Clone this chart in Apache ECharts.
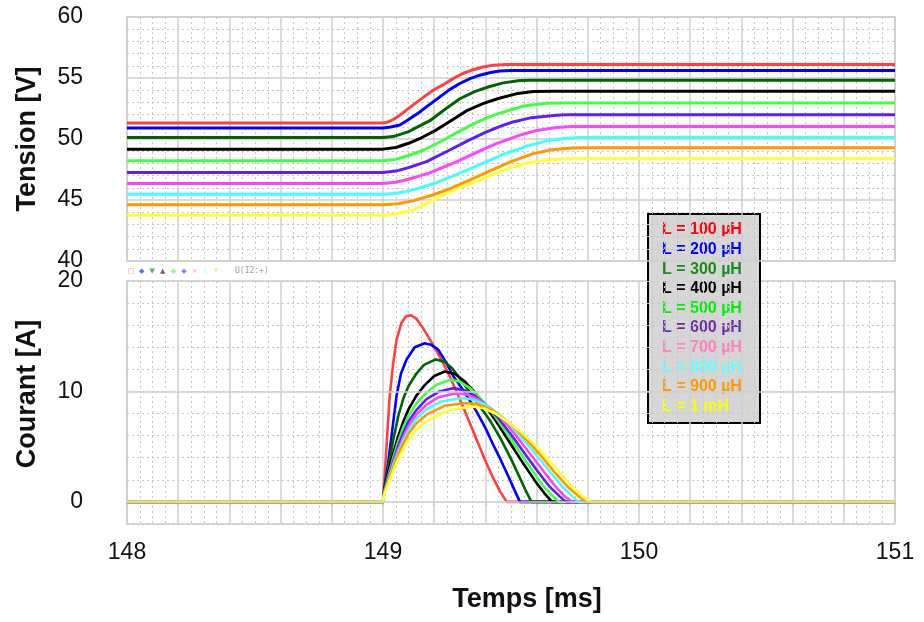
<!DOCTYPE html>
<html><head><meta charset="utf-8">
<script src="https://cdn.jsdelivr.net/npm/echarts@6/dist/echarts.min.js"></script>
<style>html,body{margin:0;padding:0;background:#fff}#c{width:924px;height:622px}</style>
</head><body><div id="c"></div><script>
// ---------- labels ----------
const seriesNames = ['L = 100 µH','L = 200 µH','L = 300 µH','L = 400 µH','L = 500 µH','L = 600 µH','L = 700 µH','L = 800 µH','L = 900 µH','L = 1 mH'];
const xTickLabels = [148, 149, 150, 151];
const voltageTickLabels = [40, 45, 50, 55, 60];
const currentTickLabels = [0, 10, 20];

// ---------- voltage [ms, V] ----------
const voltage100 = [[148,51.32],[149.0,51.32],[149.02,51.4],[149.04,51.6],[149.066,51.95],[149.09,52.35],[149.118,52.8],[149.16,53.45],[149.196,54.0],[149.24,54.5],[149.274,54.95],[149.31,55.35],[149.352,55.68],[149.39,55.9],[149.43,56.05],[149.48,56.1],[151,56.1]];
const voltage200 = [[148,50.91],[149.0,50.91],[149.03,50.98],[149.066,51.15],[149.1,51.6],[149.144,52.22],[149.18,52.8],[149.222,53.45],[149.26,54.05],[149.3,54.55],[149.34,54.95],[149.378,55.23],[149.42,55.45],[149.456,55.57],[149.5,55.61],[151,55.61]];
const voltage300 = [[148,50.13],[149.0,50.13],[149.04,50.2],[149.1,50.6],[149.183,51.5],[149.24,52.4],[149.3,53.3],[149.36,53.9],[149.417,54.3],[149.47,54.6],[149.535,54.8],[149.58,54.82],[151,54.82]];
const voltage400 = [[148,49.17],[149.0,49.17],[149.05,49.3],[149.1,49.65],[149.15,50.1],[149.209,50.75],[149.27,51.55],[149.33,52.35],[149.39,52.9],[149.45,53.32],[149.52,53.7],[149.587,53.9],[149.66,53.92],[151,53.92]];
const voltage500 = [[148,48.21],[149.0,48.21],[149.05,48.33],[149.1,48.65],[149.16,49.1],[149.235,49.9],[149.3,50.65],[149.36,51.3],[149.42,51.85],[149.483,52.28],[149.55,52.7],[149.639,52.93],[149.69,52.96],[151,52.96]];
const voltage600 = [[148,47.26],[149.0,47.26],[149.05,47.37],[149.1,47.65],[149.17,48.15],[149.261,49.1],[149.33,49.85],[149.4,50.55],[149.46,51.05],[149.508,51.4],[149.58,51.75],[149.678,51.95],[149.715,51.98],[151,51.98]];
const voltage700 = [[148,46.36],[149.0,46.36],[149.05,46.45],[149.1,46.7],[149.18,47.2],[149.287,48.13],[149.36,48.85],[149.44,49.6],[149.535,50.32],[149.6,50.7],[149.68,50.95],[149.74,51.02],[151,51.03]];
const voltage800 = [[148,45.48],[149.0,45.48],[149.06,45.58],[149.12,45.85],[149.2,46.35],[149.313,47.31],[149.39,48.0],[149.47,48.75],[149.561,49.4],[149.64,49.85],[149.72,50.07],[149.77,50.12],[151,50.13]];
const voltage900 = [[148,44.61],[149.0,44.61],[149.06,44.7],[149.12,44.95],[149.2,45.45],[149.27,46.0],[149.339,46.63],[149.42,47.4],[149.5,48.15],[149.587,48.8],[149.66,49.12],[149.74,49.26],[149.8,49.28],[151,49.28]];
const voltage1m  = [[148,43.74],[149.0,43.74],[149.05,43.85],[149.118,44.17],[149.18,44.8],[149.248,45.54],[149.31,46.1],[149.378,46.63],[149.44,47.2],[149.508,47.72],[149.57,48.05],[149.639,48.27],[149.7,48.37],[149.77,48.4],[151,48.4]];

// ---------- current [ms, A] ----------
const current100 = [[148,0],[149.0,0],[149.003,1.1],[149.015,5.5],[149.026,9.5],[149.04,12.6],[149.053,14.7],[149.072,16.2],[149.09,16.8],[149.109,16.9],[149.13,16.6],[149.16,15.6],[149.196,14.2],[149.23,12.8],[149.261,11.35],[149.3,9.3],[149.339,7.15],[149.37,5.4],[149.404,3.5],[149.43,2.2],[149.456,1.0],[149.483,0],[151,0]];
const current200 = [[148,0],[149.0,0],[149.005,1.2],[149.02,3.5],[149.035,6.3],[149.053,9.6],[149.07,11.6],[149.092,12.9],[149.124,14.0],[149.163,14.37],[149.19,14.2],[149.215,13.8],[149.245,12.7],[149.274,11.4],[149.32,9.9],[149.365,8.2],[149.4,6.7],[149.43,5.2],[149.46,3.8],[149.49,2.3],[149.515,1.0],[149.535,0],[151,0]];
const current300 = [[148,0],[149.0,0],[149.005,1.1],[149.02,3.0],[149.04,5.6],[149.06,7.8],[149.08,9.4],[149.1,10.5],[149.13,11.6],[149.16,12.4],[149.206,12.9],[149.24,12.7],[149.27,12.1],[149.3,11.2],[149.34,9.9],[149.38,8.6],[149.42,7.3],[149.46,5.7],[149.5,3.9],[149.53,2.4],[149.56,0.9],[149.58,0],[151,0]];
const current400 = [[148,0],[149.0,0],[149.005,1.0],[149.02,2.6],[149.04,4.4],[149.06,6.0],[149.08,7.3],[149.1,8.4],[149.13,9.6],[149.16,10.5],[149.2,11.4],[149.241,11.8],[149.28,11.6],[149.32,10.9],[149.36,9.9],[149.4,8.7],[149.45,7.0],[149.5,5.2],[149.55,3.4],[149.6,1.7],[149.63,0.8],[149.66,0],[151,0]];
const current500 = [[148,0],[149.0,0],[149.005,0.9],[149.02,2.3],[149.04,4.0],[149.06,5.5],[149.08,6.8],[149.1,7.8],[149.13,8.9],[149.17,9.9],[149.21,10.6],[149.261,11.05],[149.3,10.9],[149.34,10.3],[149.38,9.4],[149.42,8.3],[149.47,6.7],[149.52,5.0],[149.57,3.3],[149.62,1.6],[149.66,0.6],[149.69,0],[151,0]];
const current600 = [[148,0],[149.0,0],[149.005,0.9],[149.02,2.1],[149.04,3.7],[149.06,5.1],[149.08,6.3],[149.1,7.3],[149.13,8.3],[149.17,9.3],[149.22,10.0],[149.274,10.3],[149.32,10.1],[149.36,9.6],[149.4,8.8],[149.45,7.6],[149.5,6.1],[149.55,4.5],[149.6,2.9],[149.65,1.4],[149.69,0.5],[149.715,0],[151,0]];
const current700 = [[148,0],[149.0,0],[149.005,0.8],[149.02,2.0],[149.04,3.5],[149.06,4.8],[149.08,5.9],[149.1,6.9],[149.13,7.9],[149.17,8.8],[149.22,9.5],[149.287,9.85],[149.33,9.7],[149.37,9.3],[149.42,8.5],[149.47,7.4],[149.52,6.0],[149.57,4.5],[149.62,3.0],[149.67,1.5],[149.71,0.5],[149.74,0],[151,0]];
const current800 = [[148,0],[149.0,0],[149.005,0.8],[149.02,1.9],[149.04,3.3],[149.06,4.5],[149.08,5.6],[149.1,6.5],[149.13,7.5],[149.17,8.4],[149.23,9.1],[149.307,9.4],[149.35,9.3],[149.4,8.8],[149.45,8.0],[149.5,6.9],[149.55,5.6],[149.6,4.2],[149.65,2.8],[149.7,1.4],[149.74,0.5],[149.765,0],[151,0]];
const current900 = [[148,0],[149.0,0],[149.005,0.8],[149.02,1.8],[149.04,3.1],[149.06,4.3],[149.08,5.3],[149.1,6.2],[149.13,7.1],[149.17,7.9],[149.24,8.7],[149.326,8.95],[149.37,8.85],[149.42,8.4],[149.47,7.6],[149.52,6.6],[149.57,5.4],[149.62,4.1],[149.67,2.7],[149.72,1.4],[149.77,0.4],[149.795,0],[151,0]];
const current1m  = [[148,0],[149.0,0],[149.005,0.7],[149.02,1.6],[149.04,2.8],[149.06,3.9],[149.08,4.8],[149.1,5.6],[149.13,6.5],[149.17,7.3],[149.21,7.8],[149.26,8.3],[149.346,8.65],[149.39,8.5],[149.44,8.0],[149.495,7.15],[149.55,6.1],[149.6,5.0],[149.65,3.7],[149.704,2.3],[149.75,1.1],[149.79,0.3],[149.815,0],[151,0]];

const voltageSeries = [voltage100,voltage200,voltage300,voltage400,voltage500,voltage600,voltage700,voltage800,voltage900,voltage1m];
const currentSeries = [current100,current200,current300,current400,current500,current600,current700,current800,current900,current1m];

// ---------- styles ----------
const lineColors   = ['#ff4040','#0000ff','#006400','#000000','#40ff40','#5a1eff','#ff44ff','#40ffff','#ff9900','#ffff33'];
const legendColors = ['#ff0000','#0000ff','#1a8c1a','#000000','#00ee00','#7030a0','#ff80c0','#66ffff','#ff9900','#ffff00'];
const FONT = 'Liberation Sans, Arial, sans-serif';
const majorGrid = {color:'#cfcfcf', width:1.5};
const minorGrid = {color:'#c6c6c6', width:1, type:[2,3]};
const isInt = v => Math.abs(v - Math.round(v)) < 1e-6;

const chart = echarts.init(document.getElementById('c'), null, {renderer:'canvas'});

function xAxisFor(i){
  return {
    type:'value', gridIndex:i, min:148, max:151, interval:0.2,
    axisLine:{show:false},
    axisTick:{show:i===1, length:4, lineStyle:{color:'#c8c8c8', width:1.5}},
    axisLabel:{show:i===1, margin:17, fontSize:23, fontFamily:FONT, color:'#111',
      formatter: v => (isInt(v) && xTickLabels.includes(Math.round(v))) ? String(Math.round(v)) : ''},
    splitLine:{show:true, lineStyle:majorGrid},
    minorTick:{show:false, splitNumber:4},
    minorSplitLine:{show:true, lineStyle:minorGrid}
  };
}

const series = [];
voltageSeries.forEach((d,k) => series.push({
  name: seriesNames[k], type:'line', xAxisIndex:0, yAxisIndex:0, data:d,
  showSymbol:false, smooth:false, animation:false,
  lineStyle:{color:lineColors[k], width:3, join:'round'}, itemStyle:{color:lineColors[k]}
}));
// major current gridlines (0 A and 10 A)
series.push({type:'line', xAxisIndex:1, yAxisIndex:1, data:[], silent:true, animation:false,
  markLine:{silent:true, symbol:'none', label:{show:false}, animation:false,
    lineStyle:{color:'#cfcfcf', width:1.5, type:'solid'},
    data:[{yAxis:0},{yAxis:10}]}});
currentSeries.forEach((d,k) => series.push({
  name: seriesNames[k], type:'line', xAxisIndex:1, yAxisIndex:1, data:d,
  showSymbol:false, smooth:false, animation:false,
  lineStyle:{color:lineColors[k], width:2.6, join:'round'}, itemStyle:{color:lineColors[k]}
}));

const legendChildren = [
  {type:'rect', shape:{x:648, y:214, width:112, height:209}, style:{fill:'#d6d6d6', stroke:'#000', lineWidth:2}}
].concat(seriesNames.map((n,k) => ({
  type:'text', x:662, y:230 + k*19.6,
  style:{text:n, fill:legendColors[k], font:'bold 16px '+FONT, verticalAlign:'middle', align:'left'}
})));

const probeSymbols = ['□','◆','▼','▲','◆','◆','×','△','Y','ǀ'];
const probeTexts = probeSymbols.map((s,k) => ({
  type:'text', x:131 + k*10.6, y:271,
  style:{text:s, fill:lineColors[k], opacity:0.6, font:'7px DejaVu Sans', align:'center', verticalAlign:'middle'}
}));

chart.setOption({
  backgroundColor:'#ffffff',
  animation:false,
  grid:[
    {left:127, right:29, top:17, height:244, show:true, borderColor:'#cccccc', borderWidth:1.5, backgroundColor:'transparent'},
    {left:127, right:29, top:281, height:243, show:true, borderColor:'#cccccc', borderWidth:1.5, backgroundColor:'transparent'}
  ],
  xAxis:[xAxisFor(0), xAxisFor(1)],
  yAxis:[
    {type:'value', gridIndex:0, min:40, max:60, interval:5,
     axisLine:{show:false}, axisTick:{show:false},
     axisLabel:{margin:44, fontSize:23, fontFamily:FONT, color:'#111',
       formatter: v => voltageTickLabels.includes(v) ? String(v) : ''},
     splitLine:{show:true, lineStyle:majorGrid},
     minorTick:{show:false, splitNumber:5},
     minorSplitLine:{show:true, lineStyle:minorGrid}},
    {type:'value', gridIndex:1, min:-2, max:20, interval:2,
     axisLine:{show:false}, axisTick:{show:false},
     axisLabel:{margin:44, fontSize:23, fontFamily:FONT, color:'#111', padding:[4,0,0,0],
       formatter: v => currentTickLabels.includes(v) ? String(v) : ''},
     splitLine:{show:true, lineStyle:minorGrid}}
  ],
  series: series,
  graphic:[
    {type:'group', z:100, children:legendChildren},
    {type:'group', children:probeTexts},
    {type:'text', x:235, y:271, style:{text:'U(I2:+)', fill:'#9a9a9a', font:'8px DejaVu Sans Mono', verticalAlign:'middle'}},
    {type:'text', x:28, y:139, rotation:Math.PI/2, style:{text:'Tension [V]', fill:'#111', font:'bold 27px '+FONT, align:'center', verticalAlign:'middle'}},
    {type:'text', x:28, y:394, rotation:Math.PI/2, style:{text:'Courant [A]', fill:'#111', font:'bold 27px '+FONT, align:'center', verticalAlign:'middle'}},
    {type:'text', x:527, y:600, style:{text:'Temps [ms]', fill:'#111', font:'bold 27px '+FONT, align:'center', verticalAlign:'middle'}}
  ]
});
</script></body></html>
